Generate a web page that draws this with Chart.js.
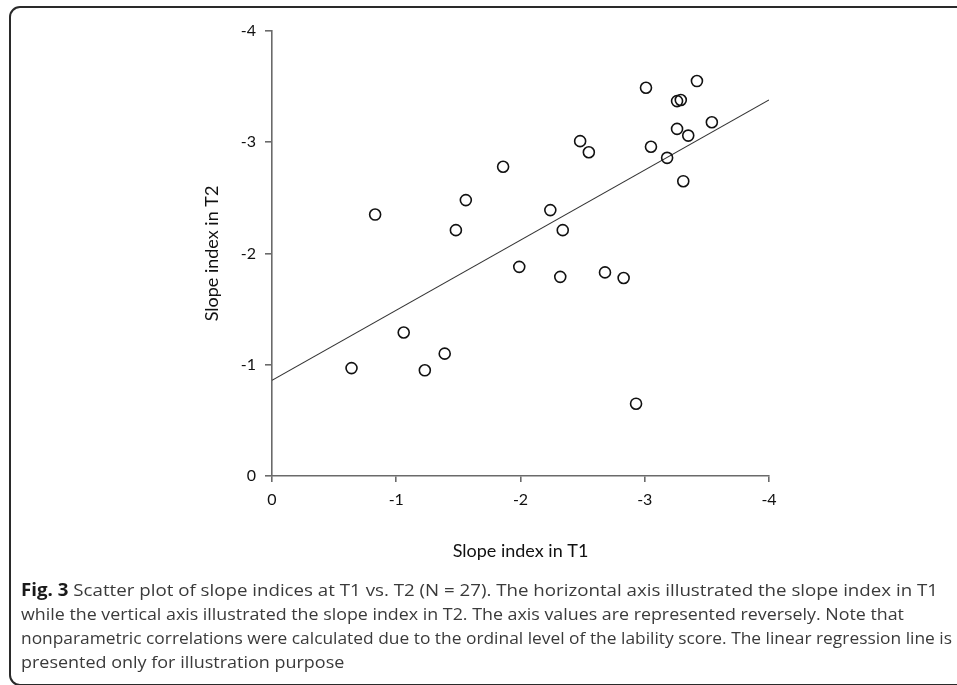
<!DOCTYPE html>
<html>
<head>
<meta charset="utf-8">
<script src="https://cdn.jsdelivr.net/npm/chart.js@4/dist/chart.umd.min.js"></script>
<style>
  html, body { margin: 0; padding: 0; background: #fff; width: 957px; height: 685px; overflow: hidden; }
  #frame { position: absolute; left: 9px; top: 6px; width: 1000px; height: 676px; border: 2px solid #2a2a2a; border-radius: 11px; box-sizing: content-box; }
  #wrap { position: absolute; left: 0; top: 0; width: 957px; height: 685px; }
  .cap { position: absolute; left: 21px; font-family: "Open Sans", sans-serif; font-size: 17px; color: #3a3a3a; white-space: nowrap; transform-origin: 0 50%; line-height: 22px; }
  .cap b { color: #1a1a1a; font-weight: 700; }
</style>
</head>
<body>
<div id="frame"></div>
<div id="wrap"><canvas id="c" width="957" height="685"></canvas></div>
<div class="cap" data-w="917" style="top:579px"><b>Fig. 3</b> Scatter plot of slope indices at T1 vs. T2 (N = 27). The horizontal axis illustrated the slope index in T1</div>
<div class="cap" data-w="883" style="top:603px">while the vertical axis illustrated the slope index in T2. The axis values are represented reversely. Note that</div>
<div class="cap" data-w="931" style="top:627px">nonparametric correlations were calculated due to the ordinal level of the lability score. The linear regression line is</div>
<div class="cap" style="top:651px">presented only for illustration purpose</div>
<script>
// Slope index in T1 (x) and T2 (y) for the 27 participants
const slopeT1 = [-0.83, -1.56, -1.48, -1.86, -3.01, -3.42, -3.26, -3.29, -3.54, -3.26, -3.35, -3.05, -3.18, -3.31,
                 -2.48, -2.55, -2.24, -2.34, -1.06, -0.64, -1.23, -1.39, -1.99, -2.32, -2.68, -2.83, -2.93];
const slopeT2 = [-2.35, -2.48, -2.21, -2.78, -3.49, -3.55, -3.37, -3.38, -3.18, -3.12, -3.06, -2.96, -2.86, -2.65,
                 -3.01, -2.91, -2.39, -2.21, -1.29, -0.97, -0.95, -1.10, -1.88, -1.79, -1.83, -1.78, -0.65];
// Linear regression line end points
const regX = [0, -4];
const regY = [-0.86, -3.38];
// Axis tick values
const xTicks = [0, -1, -2, -3, -4];
const yTicks = [0, -1, -2, -3, -4];
const xTitle = 'Slope index in T1';
const yTitle = 'Slope index in T2';

const points = slopeT1.map((x, i) => ({ x: x, y: slopeT2[i] }));
const regLine = regX.map((x, i) => ({ x: x, y: regY[i] }));

const axisColor = '#6a6a6a';
const tickFont = { family: 'Lato', size: 16 };
const titleFont = { family: 'Lato', size: 18 };

new Chart(document.getElementById('c'), {
  type: 'scatter',
  data: {
    datasets: [
      {
        data: points,
        pointRadius: 5.5,
        pointHoverRadius: 5.5,
        pointBorderWidth: 1.6,
        borderColor: '#111',
        backgroundColor: 'rgba(255,255,255,0)',
        order: 1
      },
      {
        type: 'line',
        data: regLine,
        borderColor: '#333',
        borderWidth: 1.1,
        pointRadius: 0,
        fill: false,
        order: 2
      }
    ]
  },
  options: {
    responsive: false,
    animation: false,
    devicePixelRatio: 1,
    layout: { padding: { left: 197, top: 31, right: 188, bottom: 119 } },
    plugins: { legend: { display: false }, tooltip: { enabled: false } },
    scales: {
      x: {
        type: 'linear',
        min: -4, max: 0,
        reverse: true,
        afterBuildTicks: s => { s.ticks = xTicks.map(v => ({ value: v })); },
        afterFit: s => { s.height = 90; },
        border: { display: true, color: axisColor, width: 1.6 },
        grid: { drawOnChartArea: false, drawTicks: true, tickLength: 6, color: axisColor, lineWidth: 1.6 },
        ticks: { font: tickFont, color: '#111', padding: 8, maxRotation: 0,
                 callback: v => String(v) },
        title: { display: true, text: xTitle, font: titleFont, color: '#111', padding: { top: 4, bottom: 4 } }
      },
      y: {
        type: 'linear',
        min: -4, max: 0,
        reverse: true,
        afterBuildTicks: s => { s.ticks = yTicks.map(v => ({ value: v })); },
        afterFit: s => { s.width = 75; },
        border: { display: true, color: axisColor, width: 1.6 },
        grid: { drawOnChartArea: false, drawTicks: true, tickLength: 7, color: axisColor, lineWidth: 1.6 },
        ticks: { font: tickFont, color: '#111', padding: 9,
                 callback: v => String(v) },
        title: { display: true, text: yTitle, font: titleFont, color: '#111', padding: { top: 4, bottom: 4 } }
      }
    }
  }
});

// condense caption lines to the widths of the original typeset lines
const caps = Array.from(document.querySelectorAll('.cap'));
const scales = [];
caps.forEach(el => {
  if (!el.dataset.w) return;
  const w = el.getBoundingClientRect().width;
  const s = w > 0 ? parseFloat(el.dataset.w) / w : 1;
  scales.push(s);
  el.style.transform = 'scaleX(' + s.toFixed(4) + ')';
});
const avg = scales.reduce((a, b) => a + b, 0) / scales.length;
caps.forEach(el => { if (!el.dataset.w) el.style.transform = 'scaleX(' + avg.toFixed(4) + ')'; });
</script>
</body>
</html>
